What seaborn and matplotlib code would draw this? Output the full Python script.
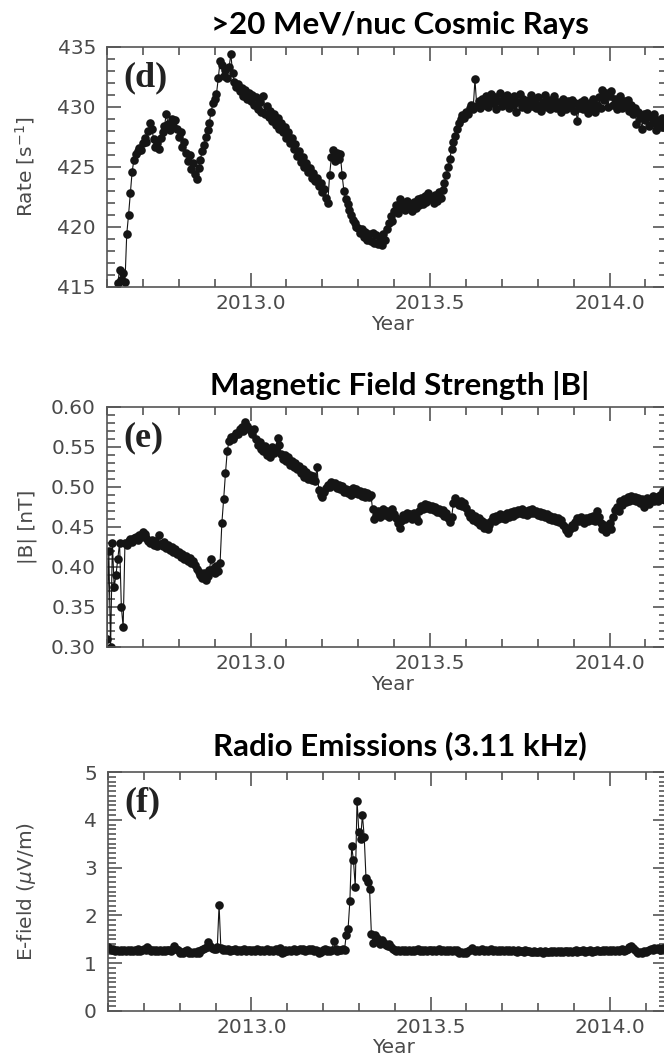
import numpy as np
import pandas as pd
import matplotlib.pyplot as plt
import seaborn as sns
from matplotlib.ticker import MultipleLocator, FormatStrFormatter

# ---------------------------------------------------------
# Data (one sample every 0.005 yr)
# ---------------------------------------------------------
step = 0.005

start_d = 2012.63
rate_d = [
    415.3, 416.4, 415.6, 416.2, 415.4, 419.4, 421.0, 422.8, 424.6, 425.6,
    426.1, 426.3, 426.6, 426.4, 427.0, 427.4, 427.1, 428.0, 428.7, 428.2,
    427.3, 426.7, 427.0, 426.5, 427.4, 427.9, 428.4, 429.4, 428.6, 428.1,
    429.0, 428.4, 428.9, 428.2, 427.5, 427.9, 426.7, 427.1, 426.2, 425.5,
    426.0, 424.8, 425.3, 424.4, 424.0, 424.9, 425.6, 426.3, 426.8, 427.5,
    428.1, 428.7, 429.6, 430.3, 430.7, 431.1, 432.4, 433.8, 433.5, 432.6,
    433.1, 432.4, 433.3, 434.4, 432.8, 432.1, 431.7, 431.9, 431.3, 431.6,
    430.9, 431.4, 430.7, 431.2, 430.5, 431.0, 430.2, 430.8, 429.8, 430.4,
    429.6, 430.9, 429.4, 430.1, 429.2, 429.7, 428.8, 429.4, 428.5, 429.1,
    428.2, 428.7, 427.9, 428.3, 427.4, 427.9, 427.0, 427.4, 426.5, 426.9,
    425.9, 426.3, 425.4, 425.8, 425.0, 425.3, 424.6, 424.9, 424.1, 424.5,
    423.8, 424.1, 423.4, 423.7, 422.9, 423.2, 422.4, 422.0, 424.3, 425.8,
    426.4, 425.5, 426.2, 425.7, 426.1, 424.3, 423.0, 422.3, 421.9, 421.4,
    421.0, 420.6, 420.3, 420.0, 419.9, 419.5, 419.8, 419.2, 419.6, 418.9,
    419.4, 418.8, 419.5, 418.7, 419.3, 418.6, 419.1, 418.5, 419.4, 418.9,
    419.8, 420.3, 420.9, 420.5, 421.3, 421.8, 421.2, 422.3, 421.6, 422.0,
    421.4, 422.2, 421.7, 421.9, 421.3, 422.1, 421.6, 422.3, 421.8, 422.4,
    421.9, 422.6, 422.1, 422.8, 422.3, 422.5, 422.0, 422.7, 422.2, 422.9,
    422.4, 423.1, 423.7, 424.3, 425.0, 425.7, 426.5, 427.1, 427.6, 428.2,
    428.7, 429.0, 429.3, 429.1, 429.6, 429.4, 429.9, 430.2, 429.8, 432.3,
    430.1, 430.5, 429.9, 430.7, 430.2, 430.9, 430.0, 430.6, 431.1, 430.3,
    430.8, 429.8, 430.5, 431.2, 430.1, 430.7, 430.3, 431.0, 429.9, 430.6,
    430.2, 430.9, 429.6, 430.4, 431.1, 430.0, 430.7, 430.3, 429.8, 430.6,
    431.0, 430.1, 430.5, 429.9, 430.8, 430.2, 429.7, 430.4, 431.0, 430.0,
    430.6, 429.8, 430.3, 430.9, 429.9, 430.4, 430.1, 429.6, 430.7, 430.2,
    429.8, 430.5, 430.0, 430.6, 429.7, 430.3, 428.8, 429.9, 430.4, 429.8,
    430.6, 430.1, 429.5, 430.3, 430.0, 430.7, 429.6, 430.2, 430.8, 429.9,
    431.4, 430.6, 431.2, 430.0, 430.9, 431.3, 430.2, 430.7, 429.8, 430.4,
    430.9, 429.9, 430.5, 430.1, 430.6, 429.7, 430.2, 429.4, 429.9, 428.6,
    429.6, 429.1, 428.2, 429.4, 428.9, 429.5, 428.4, 429.2, 428.7, 429.4,
    428.1, 428.9, 428.5, 429.1, 428.3, 428.8, 428.4,
]

start_e = 2012.60
bmag_e = [
    0.310, 0.420, 0.300, 0.430, 0.375, 0.390, 0.410, 0.430, 0.350, 0.325,
    0.430, 0.428, 0.432, 0.435, 0.431, 0.436, 0.438, 0.434, 0.440, 0.437,
    0.444, 0.441, 0.436, 0.433, 0.430, 0.434, 0.428, 0.432, 0.426, 0.440,
    0.429, 0.426, 0.431, 0.424, 0.427, 0.421, 0.425, 0.419, 0.422, 0.416,
    0.419, 0.413, 0.416, 0.410, 0.414, 0.408, 0.411, 0.405, 0.408, 0.402,
    0.398, 0.394, 0.390, 0.386, 0.392, 0.384, 0.389, 0.396, 0.410, 0.397,
    0.392, 0.401, 0.395, 0.405, 0.455, 0.485, 0.517, 0.545, 0.558, 0.562,
    0.560, 0.564, 0.568, 0.566, 0.572, 0.575, 0.570, 0.581, 0.576, 0.573,
    0.570, 0.566, 0.572, 0.560, 0.552, 0.556, 0.548, 0.545, 0.551, 0.540,
    0.546, 0.538, 0.550, 0.543, 0.548, 0.561, 0.553, 0.541, 0.535, 0.540,
    0.532, 0.537, 0.528, 0.533, 0.525, 0.530, 0.522, 0.526, 0.518, 0.522,
    0.513, 0.519, 0.510, 0.515, 0.509, 0.514, 0.508, 0.525, 0.496, 0.490,
    0.487, 0.494, 0.499, 0.503, 0.500, 0.506, 0.502, 0.505, 0.499, 0.503,
    0.497, 0.501, 0.494, 0.498, 0.492, 0.496, 0.490, 0.499, 0.493, 0.497,
    0.491, 0.495, 0.489, 0.494, 0.488, 0.492, 0.487, 0.490, 0.472, 0.460,
    0.465, 0.470, 0.462, 0.468, 0.473, 0.465, 0.470, 0.463, 0.467, 0.472,
    0.466, 0.461, 0.455, 0.449, 0.458, 0.465, 0.460, 0.468, 0.462, 0.466,
    0.460, 0.467, 0.463, 0.458, 0.470, 0.476, 0.472, 0.479, 0.474, 0.478,
    0.472, 0.476, 0.471, 0.475, 0.469, 0.473, 0.467, 0.471, 0.464, 0.468,
    0.461, 0.456, 0.462, 0.480, 0.486, 0.482, 0.478, 0.483, 0.476, 0.480,
    0.474, 0.468, 0.463, 0.467, 0.459, 0.464, 0.456, 0.461, 0.453, 0.458,
    0.449, 0.455, 0.447, 0.452, 0.457, 0.462, 0.458, 0.464, 0.460, 0.466,
    0.461, 0.465, 0.460, 0.467, 0.463, 0.469, 0.464, 0.470, 0.466, 0.471,
    0.467, 0.472, 0.466, 0.470, 0.465, 0.471, 0.468, 0.473, 0.467, 0.470,
    0.465, 0.469, 0.464, 0.468, 0.462, 0.466, 0.460, 0.464, 0.459, 0.463,
    0.457, 0.461, 0.456, 0.459, 0.453, 0.450, 0.446, 0.443, 0.448, 0.452,
    0.450, 0.456, 0.461, 0.457, 0.463, 0.458, 0.455, 0.461, 0.457, 0.463,
    0.459, 0.464, 0.458, 0.470, 0.462, 0.455, 0.447, 0.452, 0.444, 0.450,
    0.455, 0.448, 0.462, 0.471, 0.475, 0.470, 0.482, 0.478, 0.485, 0.481,
    0.487, 0.483, 0.489, 0.484, 0.488, 0.482, 0.486, 0.480, 0.485, 0.475,
    0.481, 0.486, 0.479, 0.484, 0.489, 0.483, 0.488, 0.482, 0.490, 0.485,
    0.495, 0.484, 0.489,
]

start_f = 2012.60
efield_f = [
    1.33, 1.30, 1.27, 1.29, 1.26, 1.28, 1.25, 1.27, 1.26, 1.28,
    1.25, 1.27, 1.26, 1.28, 1.25, 1.27, 1.26, 1.29, 1.26, 1.28,
    1.30, 1.27, 1.33, 1.29, 1.26, 1.28, 1.25, 1.27, 1.26, 1.28,
    1.25, 1.27, 1.26, 1.28, 1.27, 1.25, 1.29, 1.35, 1.30, 1.27,
    1.22, 1.24, 1.21, 1.25, 1.27, 1.22, 1.24, 1.21, 1.23, 1.22,
    1.25, 1.22, 1.27, 1.29, 1.31, 1.34, 1.45, 1.36, 1.32, 1.30,
    1.29, 1.33, 2.22, 1.31, 1.28, 1.30, 1.27, 1.29, 1.26, 1.28,
    1.27, 1.29, 1.26, 1.28, 1.25, 1.27, 1.29, 1.26, 1.28, 1.27,
    1.25, 1.28, 1.26, 1.29, 1.27, 1.25, 1.28, 1.26, 1.27, 1.29,
    1.26, 1.28, 1.25, 1.27, 1.29, 1.26, 1.31, 1.21, 1.24, 1.27,
    1.26, 1.28, 1.25, 1.27, 1.29, 1.26, 1.28, 1.30, 1.27, 1.29,
    1.26, 1.28, 1.30, 1.27, 1.29, 1.26, 1.28, 1.25, 1.21, 1.24,
    1.27, 1.29, 1.26, 1.28, 1.25, 1.27, 1.47, 1.29, 1.26, 1.28,
    1.27, 1.29, 1.28, 1.60, 1.72, 2.30, 3.45, 3.15, 2.60, 4.40,
    3.75, 3.60, 4.10, 3.65, 2.78, 2.70, 2.55, 1.62, 1.42, 1.58,
    1.52, 1.45, 1.40, 1.48, 1.42, 1.38, 1.35, 1.40, 1.33, 1.30,
    1.28, 1.26, 1.28, 1.25, 1.27, 1.26, 1.28, 1.25, 1.27, 1.26,
    1.28, 1.25, 1.27, 1.29, 1.26, 1.28, 1.25, 1.27, 1.26, 1.28,
    1.27, 1.25, 1.28, 1.26, 1.27, 1.29, 1.26, 1.28, 1.25, 1.27,
    1.26, 1.28, 1.25, 1.27, 1.26, 1.28, 1.22, 1.24, 1.21, 1.23,
    1.22, 1.25, 1.27, 1.32, 1.28, 1.26, 1.28, 1.25, 1.27, 1.29,
    1.26, 1.28, 1.25, 1.27, 1.29, 1.26, 1.28, 1.25, 1.27, 1.26,
    1.28, 1.25, 1.27, 1.26, 1.28, 1.25, 1.27, 1.26, 1.24, 1.27,
    1.25, 1.26, 1.24, 1.27, 1.25, 1.26, 1.24, 1.23, 1.25, 1.24,
    1.23, 1.25, 1.24, 1.22, 1.25, 1.23, 1.24, 1.26, 1.23, 1.25,
    1.24, 1.26, 1.23, 1.25, 1.24, 1.26, 1.25, 1.23, 1.26, 1.24,
    1.25, 1.27, 1.24, 1.26, 1.25, 1.27, 1.24, 1.26, 1.25, 1.27,
    1.24, 1.26, 1.25, 1.27, 1.25, 1.26, 1.28, 1.25, 1.27, 1.26,
    1.28, 1.25, 1.27, 1.26, 1.28, 1.25, 1.27, 1.29, 1.26, 1.28,
    1.30, 1.33, 1.36, 1.31, 1.28, 1.23, 1.21, 1.24, 1.22, 1.25,
    1.23, 1.26, 1.28, 1.30, 1.27, 1.31, 1.29, 1.32, 1.28, 1.30,
    1.31, 1.29, 1.30,
]

titles = [">20 MeV/nuc Cosmic Rays", "Magnetic Field Strength |B|", "Radio Emissions (3.11 kHz)"]
tags = ["(d)", "(e)", "(f)"]
ylabels = ["Rate [s$^{-1}$]", "|B| [nT]", "E-field ($\\mu$V/m)"]
ylims = [(415, 435), (0.30, 0.60), (0, 5)]
ymajor = [5, 0.05, 1]
yminor = [1, 0.01, 0.1]
yfmt = ["%d", "%.2f", "%d"]
xlim = (2012.6, 2014.16)

series = [(start_d, rate_d), (start_e, bmag_e), (start_f, efield_f)]

# ---------------------------------------------------------
# Figure layout (pixel boxes of the reference)
# ---------------------------------------------------------
sns.set_style("ticks")
plt.rcParams["font.family"] = ["DejaVu Sans"]

W, H = 664, 1059
fig = plt.figure(figsize=(W / 100, H / 100), dpi=100)

boxes = [(107, 47, 667, 287), (107, 407, 667, 647), (108, 772, 667, 1011)]
title_base = [34, 395, 755]

grey = "#555555"
label_grey = "#4a4a4a"

for k, (start, vals) in enumerate(series):
    l, t, r, b = boxes[k]
    ax = fig.add_axes([l / W, 1 - b / H, (r - l) / W, (b - t) / H])

    df = pd.DataFrame({"year": start + step * np.arange(len(vals)), "value": vals})
    sns.lineplot(data=df, x="year", y="value", ax=ax, color="#151515",
                 linewidth=0.8, marker="o", markersize=6.2, markeredgewidth=0,
                 estimator=None, sort=False)

    ax.set_xlim(*xlim)
    ax.set_ylim(*ylims[k])
    ax.xaxis.set_major_locator(MultipleLocator(0.5))
    ax.xaxis.set_minor_locator(MultipleLocator(0.1))
    ax.xaxis.set_major_formatter(FormatStrFormatter("%.1f"))
    ax.yaxis.set_major_locator(MultipleLocator(ymajor[k]))
    ax.yaxis.set_minor_locator(MultipleLocator(yminor[k]))
    ax.yaxis.set_major_formatter(FormatStrFormatter(yfmt[k]))

    ax.tick_params(which="both", direction="in", top=True, right=True,
                   color=grey, width=1.2, labelcolor=label_grey, labelsize=14.5)
    ax.tick_params(which="major", length=10)
    ax.tick_params(which="minor", length=5.5)
    ax.tick_params(axis="y", pad=8)
    ax.tick_params(axis="x", pad=5)
    for sp in ax.spines.values():
        sp.set_color(grey)
        sp.set_linewidth(1.2)

    ax.set_xlabel("Year", fontsize=14.5, color=label_grey)
    ax.xaxis.set_label_coords(0.51, -0.115)
    ax.set_ylabel(ylabels[k], fontsize=14.5, color=label_grey)
    ax.yaxis.set_label_coords(-0.125, 0.5)

    ax.text(0.029, 0.94, tags[k], transform=ax.transAxes, ha="left", va="top",
            fontsize=26, fontweight="bold", family="Liberation Serif", color="#222222")

    fig.text(400 / W, 1 - title_base[k] / H, titles[k], ha="center", va="baseline",
             fontsize=22.5, fontweight="bold", family="Lato", color="black")

fig.savefig("out.png", dpi=100)
